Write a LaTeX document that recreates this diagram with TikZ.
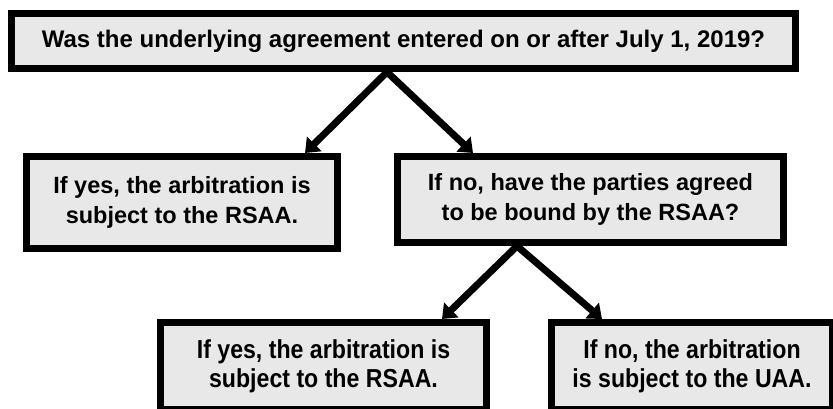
\documentclass[tikz,border=0pt]{standalone}
\usepackage{fontspec}
\setmainfont{Liberation Sans}
\newfontfamily\narrowfont[FakeStretch=0.89]{Liberation Sans}
\usetikzlibrary{arrows.meta}
\begin{document}
\begin{tikzpicture}[x=1pt,y=-1pt,
  box/.style={draw=black,line width=7pt,fill=black!9,align=center,inner sep=0pt,
    font=\fontsize{23.5}{30}\selectfont\bfseries},
  answer/.style={box,font=\narrowfont\fontsize{26}{29}\selectfont\bfseries},
  arr/.style={line width=7pt,-{Triangle[length=13pt,width=20pt]}}]
\useasboundingbox (0,0) rectangle (833,408);
\clip (0,0) rectangle (833,408);
% question boxes
\node[box,minimum width=784pt,minimum height=55pt,font=\fontsize{24}{30}\selectfont\bfseries] (date) at (403.5,41) {Was the underlying agreement entered on or after July 1, 2019?};
\node[box,minimum width=311pt,minimum height=92pt] (yes1) at (182,202.5) {If yes, the arbitration is\\subject to the RSAA.};
\node[box,minimum width=386pt,minimum height=86pt] (bound) at (590.5,199.5) {If no, have the parties agreed\\to be bound by the RSAA?};
% answers
\node[answer,minimum width=326pt,minimum height=87pt] (yes2) at (323.5,366) {If yes, the arbitration is\\subject to the RSAA.};
\node[answer,minimum width=281pt,minimum height=87pt] (uaa) at (692,366) {If no, the arbitration\\is subject to the UAA.};
\draw[arr] ([xshift=-16.5pt]date.south) -- ([xshift=123pt]yes1.north);
\draw[arr] ([xshift=-16.5pt]date.south) -- ([xshift=-117.5pt]bound.north);
\draw[arr] ([xshift=-73.5pt]bound.south) -- ([xshift=118.5pt]yes2.north);
\draw[arr] ([xshift=-73.5pt]bound.south) -- ([xshift=-90pt]uaa.north);
\end{tikzpicture}
\end{document}
